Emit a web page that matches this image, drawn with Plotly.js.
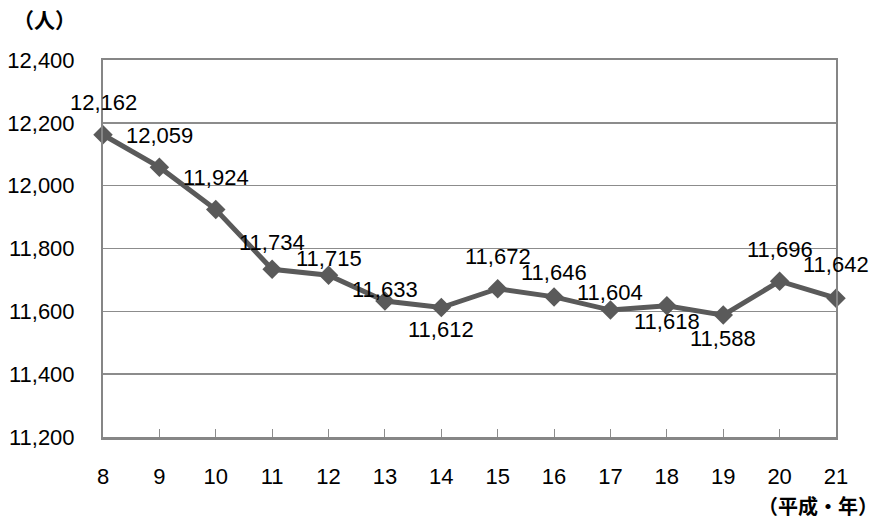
<!DOCTYPE html>
<html><head><meta charset="utf-8">
<script src="https://cdn.plot.ly/plotly-3.0.1.min.js"></script>
<style>html,body{margin:0;padding:0;background:#fff}#chart{width:880px;height:522px}</style>
</head><body><div id="chart"></div>
<script>
const years = ['8','9','10','11','12','13','14','15','16','17','18','19','20','21'];
const people = [12162,12059,11924,11734,11715,11633,11612,11672,11646,11604,11618,11588,11696,11642];
const labelShift = [32,32,32,27,17,11,-22,32,24,18,-16,-23,32,34];
const yTicks = [11200,11400,11600,11800,12000,12200,12400];
const yTickText = ['11,200','11,400','11,600','11,800','12,000','12,200','12,400'];

const fmt = v => v.toLocaleString('en-US');
const gridC = '#8c8c8c';
const labelFont = {family:'Liberation Sans, Arial, sans-serif', size:22, color:'#000'};

const trace = {
  x: years.map((_, i) => i), y: people, type:'scatter', mode:'lines+markers',
  line:{color:'#5a5a5a', width:5},
  marker:{symbol:'diamond', size:15, color:'#5a5a5a'},
  hoverinfo:'skip', showlegend:false, cliponaxis:false
};

const annotations = people.map((v, i) => ({
  x: i, y: v, xref:'x', yref:'y', text: fmt(v), showarrow:false,
  yshift: labelShift[i], font: labelFont, xanchor:'center', yanchor:'middle'
}));
annotations.push({xref:'paper', yref:'paper', x:-0.125, y:1.063, xanchor:'left', yanchor:'bottom',
  text:'<b>（人）</b>', showarrow:false, font:{family:'Noto Sans CJK JP', size:21, color:'#000'}});
annotations.push({xref:'paper', yref:'paper', x:1.06, y:-0.183, xanchor:'right', yanchor:'middle',
  text:'<b>（平成・年）</b>', showarrow:false, font:{family:'Noto Sans CJK JP', size:20, color:'#000'}});

const layout = {
  width:880, height:522,
  margin:{l:103, r:44, t:60, b:85},
  paper_bgcolor:'#fff', plot_bgcolor:'#fff',
  xaxis:{
    range:[0, years.length-1], tickmode:'array', tickvals: years.map((_, i) => i), ticktext: years,
    showgrid:false, zeroline:false, showline:true, linecolor:'#868686', linewidth:2.5, mirror:true,
    ticks:'inside', ticklen:8, tickcolor:gridC, tickwidth:1,
    tickfont:labelFont, ticklabelstandoff:18, fixedrange:true
  },
  yaxis:{
    range:[11200,12400], tickmode:'array', tickvals:yTicks, ticktext:yTickText,
    showgrid:true, gridcolor:gridC, gridwidth:1.5, zeroline:false,
    showline:true, linecolor:'#868686', linewidth:2, mirror:true, ticks:'',
    tickfont:labelFont, ticklabelstandoff:22, fixedrange:true
  },
  annotations: annotations
};
Plotly.newPlot('chart', [trace], layout, {staticPlot:true, displayModeBar:false});
</script></body></html>
